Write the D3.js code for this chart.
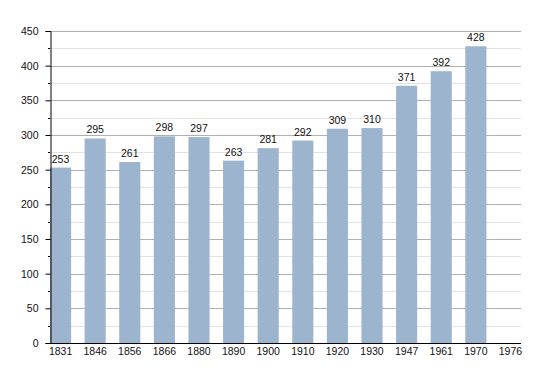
<html>
<head>
<meta charset="UTF-8"/>
<script src="https://d3js.org/d3.v7.min.js"></script>
<style>
  body { margin: 0; background: #fff; }
  svg { font-family: "Liberation Sans", Arial, sans-serif; }
  .lbl { font-size: 10.5px; fill: #111; }
</style>
</head>
<body>
<script>
  var years = ["1831","1846","1856","1866","1880","1890","1900","1910","1920","1930","1947","1961","1970","1976"];
  var population = [253, 295, 261, 298, 297, 263, 281, 292, 309, 310, 371, 392, 428, null];
  var majorTicks = [0, 50, 100, 150, 200, 250, 300, 350, 400, 450];
  var minorTicks = [25, 75, 125, 175, 225, 275, 325, 375, 425];

  var W = 550, H = 373;
  var mLeft = 50, mRight = 521, mTop = 31, mBottom = 343;

  var svg = d3.select("body").append("svg")
    .attr("width", W).attr("height", H);

  var x = d3.scaleBand().domain(years).range([mLeft, mRight])
    .paddingInner(0.39).paddingOuter(0).align(0);
  var y = d3.scaleLinear().domain([0, 450]).range([mBottom, mTop]);

  // grid
  svg.append("g").selectAll("line").data(minorTicks).enter().append("line")
    .attr("x1", mLeft).attr("x2", mRight)
    .attr("y1", function(d) { return Math.round(y(d)) + 0.5; })
    .attr("y2", function(d) { return Math.round(y(d)) + 0.5; })
    .attr("stroke", "#e2e2e2");
  svg.append("g").selectAll("line").data(majorTicks.slice(1)).enter().append("line")
    .attr("x1", mLeft).attr("x2", mRight)
    .attr("y1", function(d) { return Math.round(y(d)) + 0.5; })
    .attr("y2", function(d) { return Math.round(y(d)) + 0.5; })
    .attr("stroke", "#b0b0b0");

  // bars
  var data = years.map(function(yr, i) { return {year: yr, v: population[i]}; })
    .filter(function(d) { return d.v != null; });

  svg.append("g").selectAll("rect").data(data).enter().append("rect")
    .attr("x", function(d) { return x(d.year); })
    .attr("width", x.bandwidth())
    .attr("y", function(d) { return y(d.v); })
    .attr("height", function(d) { return y(0) - y(d.v); })
    .attr("fill", "#9cb4cd");

  svg.append("g").selectAll("text").data(data).enter().append("text")
    .attr("class", "lbl")
    .attr("x", function(d) { return x(d.year) + x.bandwidth() / 2; })
    .attr("y", function(d) { return y(d.v) - 5; })
    .attr("text-anchor", "middle")
    .text(function(d) { return d.v; });

  // y axis
  var yAxis = svg.append("g").attr("transform", "translate(" + (mLeft + 0.5) + ",0)")
    .call(d3.axisLeft(y).tickValues(majorTicks).tickSize(5).tickPadding(7));
  yAxis.select(".domain").attr("stroke", "#000");
  yAxis.selectAll("text").attr("class", "lbl").attr("font-size", null).attr("font-family", null);
  svg.append("g").selectAll("line").data(minorTicks).enter().append("line")
    .attr("x1", mLeft - 2).attr("x2", mLeft)
    .attr("y1", function(d) { return Math.round(y(d)) + 0.5; })
    .attr("y2", function(d) { return Math.round(y(d)) + 0.5; })
    .attr("stroke", "#000");

  // x axis
  var xAxis = svg.append("g").attr("transform", "translate(0," + (mBottom + 0.5) + ")")
    .call(d3.axisBottom(x).tickSize(0).tickPadding(4));
  xAxis.select(".domain").attr("stroke", "#000").attr("d", "M" + mLeft + ",0H" + mRight);
  xAxis.selectAll("text").attr("class", "lbl").attr("font-size", null).attr("font-family", null);
</script>
</body>
</html>
